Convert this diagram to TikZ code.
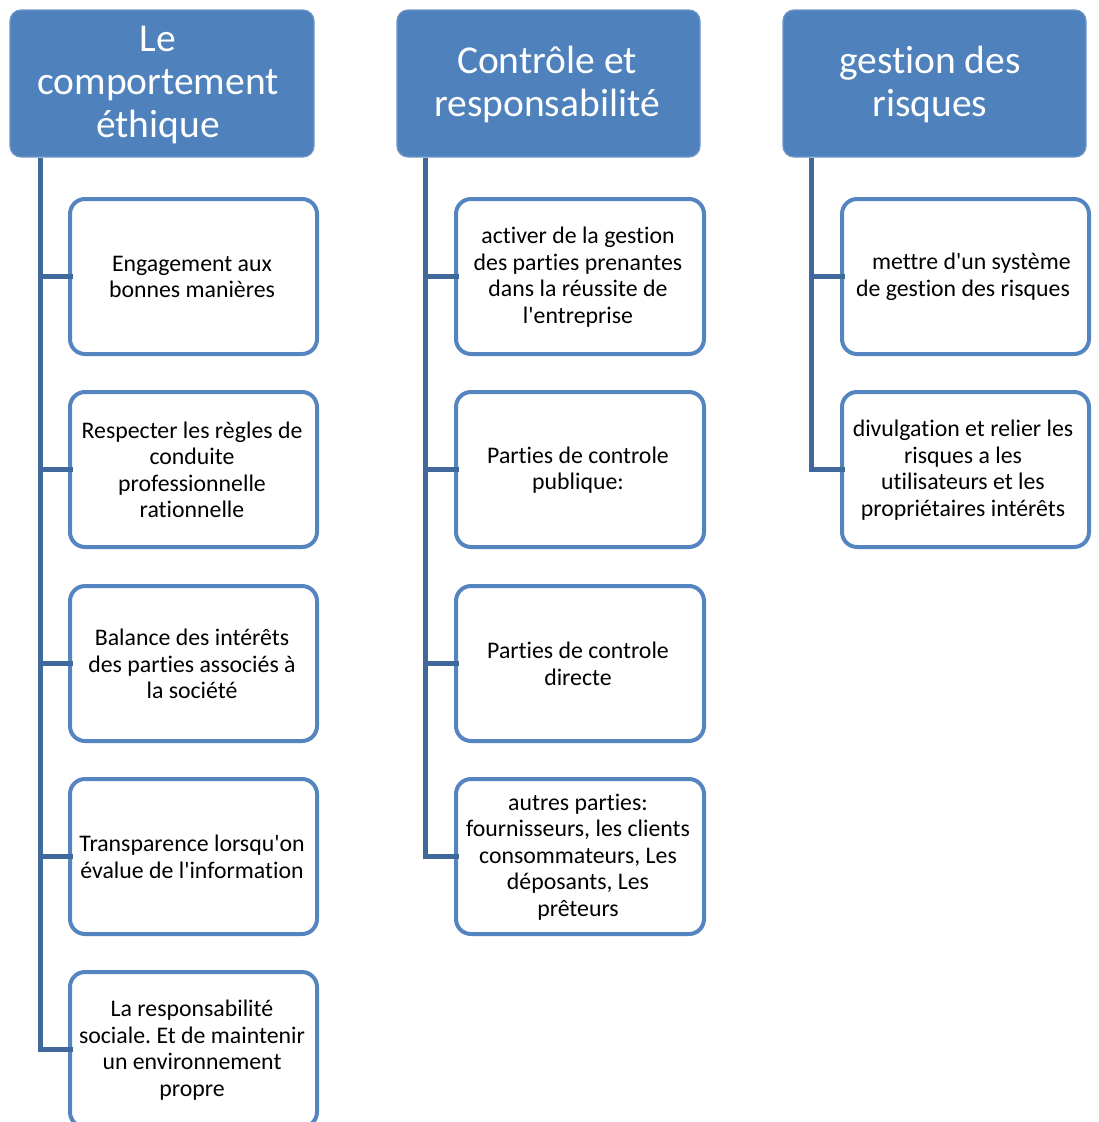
\documentclass[tikz,border=0pt]{standalone}
\usepackage{fontspec}
\setmainfont{Carlito}[Ligatures={TeXOff,NoCommon}]
\frenchspacing
\definecolor{hdr}{HTML}{4F81BD}
\definecolor{hdredge}{HTML}{6F97C8}
\definecolor{bord}{HTML}{5585C0}
\definecolor{conn}{HTML}{41689A}
\begin{document}
\begin{tikzpicture}[x=1pt,y=-1pt,
  header/.style={draw=hdredge,line width=1.2pt,fill=hdr,rounded corners=11pt},
  htext/.style={text=white,align=center,font=\fontsize{39.5}{43}\selectfont},
  item/.style={draw=bord,line width=4pt,fill=white,rounded corners=15pt},
  itext/.style={align=center,font=\fontsize{23.8}{26.5}\selectfont\frenchspacing,text=black},
  conline/.style={draw=conn,line width=5pt,line cap=rect,line join=miter}]
\clip (0,0) rectangle (1098,1122);
\fill[white] (0,0) rectangle (1098,1122);
% headers
\path[header] (10,10) rectangle (314,157);
\node[htext] (h1) at (158,85) {Le\\comportement\\éthique};
\path[header] (397,10) rectangle (700,157);
\node[htext] (h2) at (547,84) {Contrôle et\\responsabilité};
\path[header] (783,10) rectangle (1086,157);
\node[htext] (h3) at (930,84) {gestion des\\risques};
% coordinates for spines
\coordinate (s1) at (40,160);
\coordinate (s2) at (425,160);
\coordinate (s3) at (811,160);
% col 1 boxes
\foreach \i/\y/\t in {a1/199/{Engagement aux\\bonnes manières},
  a2/392/{Respecter les règles de\\conduite\\professionnelle\\rationnelle},
  a3/586/{Balance des intérêts\\des parties associés à\\la société},
  a4/779/{Transparence lorsqu'on\\évalue de l'information},
  a5/972/{La responsabilité\\sociale. Et de maintenir\\un environnement\\propre}}{
  \path[item] (70,\y) rectangle (317,\y+155);
  \node[itext] (\i) at (192,\y+78) {\t};
  \coordinate (\i w) at (70,\y+77);
}
\foreach \i/\y/\t in {b1/199/{activer de la gestion\\des parties prenantes\\dans la réussite de\\l'entreprise},
  b2/392/{Parties de controle\\publique:},
  b3/586/{Parties de controle\\directe},
  b4/779/{autres parties:\\fournisseurs, les clients\\consommateurs, Les\\déposants, Les\\prêteurs}}{
  \path[item] (456,\y) rectangle (704,\y+155);
  \node[itext] (\i) at (578,\y+78) {\t};
  \coordinate (\i w) at (456,\y+77);
}
\foreach \i/\y/\t in {c1/199/{\hspace{0.7em}mettre d'un système\\de gestion des risques},
  c2/392/{divulgation et relier les\\risques a les\\utilisateurs et les\\propriétaires intérêts}}{
  \path[item] (842,\y) rectangle (1089,\y+155);
  \node[itext] (\i) at (963,\y+78) {\t};
  \coordinate (\i w) at (842,\y+77);
}
% connectors
\draw[conline] (s1) |- (a1w);
\draw[conline] (s1) |- (a2w);
\draw[conline] (s1) |- (a3w);
\draw[conline] (s1) |- (a4w);
\draw[conline] (s1) |- (a5w);
\draw[conline] (s2) |- (b1w);
\draw[conline] (s2) |- (b2w);
\draw[conline] (s2) |- (b3w);
\draw[conline] (s2) |- (b4w);
\draw[conline] (s3) |- (c1w);
\draw[conline] (s3) |- (c2w);
\end{tikzpicture}
\end{document}
